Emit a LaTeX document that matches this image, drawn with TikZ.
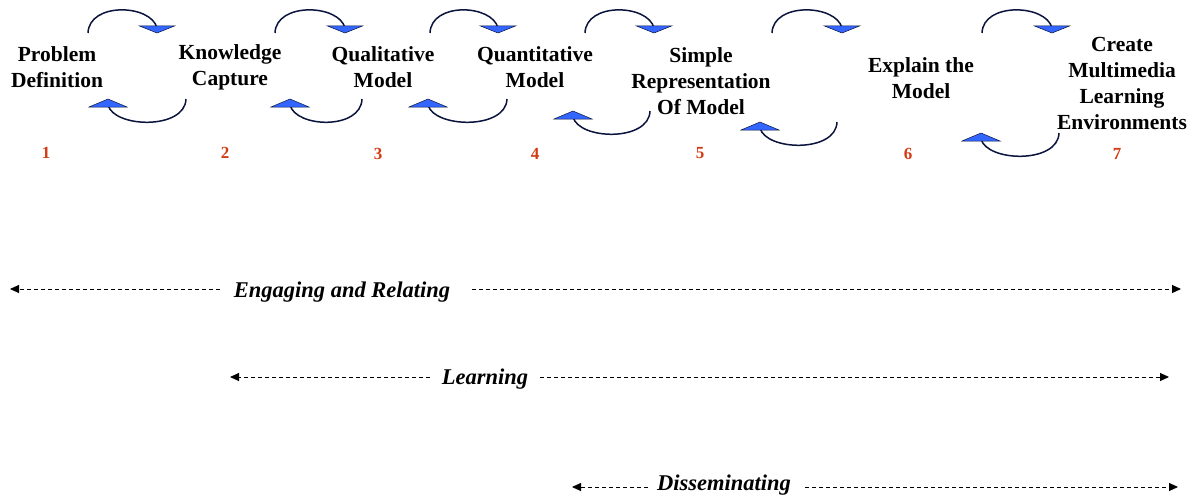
\documentclass[tikz,border=0pt]{standalone}
\usepackage{fontspec}
\setmainfont{Liberation Serif}
\usetikzlibrary{arrows.meta}
\definecolor{navy}{RGB}{10,20,60}
\definecolor{triblue}{RGB}{51,102,255}
\definecolor{numred}{RGB}{210,60,20}
\tikzset{
  loopline/.style={draw=navy,line width=1.5pt},
  tri/.style={draw=navy,line width=0.5pt,fill=triblue},
  stage/.style={font=\fontsize{21.5}{26}\selectfont\bfseries,align=center,inner sep=0pt},
  num/.style={font=\fontsize{17}{18}\selectfont\bfseries,text=numred,inner sep=0pt},
  phase/.style={font=\fontsize{22.5}{24}\selectfont\bfseries\itshape,inner sep=0pt},
  dash line/.style={draw=black,line width=0.9pt,dash pattern=on 4pt off 3pt},
  tipped/.style={-{Triangle[length=9pt,width=8pt]}}
}
\newcommand{\toploop}[2]{%
  \draw[loopline] (#1,33) .. controls (#1+1,2) and (#2-6,4) .. (#2,28);
  \draw[tri] (#2-17.5,26) -- (#2+17.5,26) -- (#2,33) -- cycle;}
\newcommand{\botloop}[3]{%
  \draw[loopline] (#1,#3) .. controls (#1-1,#3+31) and (#2+6,#3+29) .. (#2,#3+6);
  \draw[tri] (#2-19,#3+8) -- (#2+19,#3+8) -- (#2,#3) -- cycle;}
\begin{document}
\begin{tikzpicture}[x=1pt,y=-1pt]
\useasboundingbox (0,0) rectangle (1193,495);
% stages
\node[stage] (s1) at (57,67) {Problem\\Definition};
\node[stage] (s2) at (230,67) {Knowledge\\Capture};
\node[stage] (s3) at (383,67) {Qualitative\\Model};
\node[stage] (s4) at (535,67) {Quantitative\\Model};
\node[stage] (s5) at (701,81) {Simple\\Representation\\Of Model};
\node[stage] (s6) at (921,78) {Explain the\\Model};
\node[stage] (s7) at (1122,83) {Create\\Multimedia\\Learning\\Environments};
% numbers
\node[num] (n1) at (46,153) {1};
\node[num] (n2) at (225,153) {2};
\node[num] (n3) at (378,154) {3};
\node[num] (n4) at (535,154) {4};
\node[num] (n5) at (700,153) {5};
\node[num] (n6) at (908,154) {6};
\node[num] (n7) at (1117,154) {7};
% loops
\toploop{88}{157}
\botloop{186}{108}{99}
\toploop{275}{345}
\botloop{362}{290}{99}
\toploop{430}{498}
\botloop{507}{428}{99}
\toploop{585}{654}
\botloop{650}{573}{111}
\toploop{772}{842}
\botloop{837}{760}{122}
\toploop{982}{1052}
\botloop{1059}{981}{133}
% phases
\node[phase] (p1) at (342,292) {Engaging and Relating};
\coordinate (p1a) at (220,289);
\coordinate (p1b) at (472,289);
\coordinate (p1l) at (10,289);
\coordinate (p1r) at (1181,289);
\draw[dash line,tipped] (p1a) -- (p1l);
\draw[dash line,tipped] (p1b) -- (p1r);
\node[phase] (p2) at (485,379) {Learning};
\coordinate (p2a) at (430,377);
\coordinate (p2b) at (540,377);
\coordinate (p2l) at (230,377);
\coordinate (p2r) at (1169,377);
\draw[dash line,tipped] (p2a) -- (p2l);
\draw[dash line,tipped] (p2b) -- (p2r);
\node[phase] (p3) at (724,485) {Disseminating};
\coordinate (p3a) at (648,487);
\coordinate (p3b) at (805,487);
\coordinate (p3l) at (572,487);
\coordinate (p3r) at (1178,487);
\draw[dash line,tipped] (p3a) -- (p3l);
\draw[dash line,tipped] (p3b) -- (p3r);
\end{tikzpicture}
\end{document}
